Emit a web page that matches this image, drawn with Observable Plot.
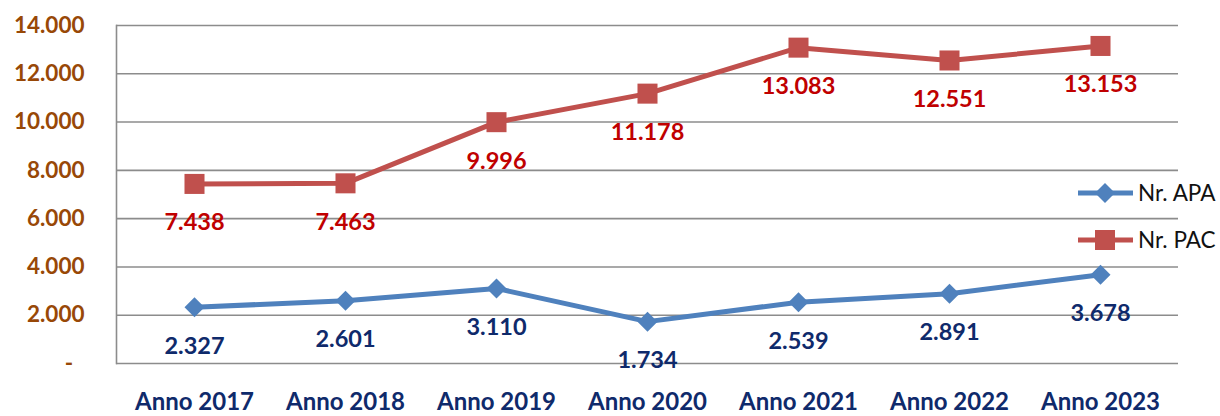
<!DOCTYPE html>
<html><head><meta charset="utf-8">
<script src="https://cdn.jsdelivr.net/npm/d3@7"></script>
<script src="https://cdn.jsdelivr.net/npm/@observablehq/plot@0.6"></script>
<style>
body{margin:0;background:#fff;}
#chart{position:relative;width:1220px;height:416px;overflow:hidden;}
#legend{position:absolute;left:0;top:0;pointer-events:none;}
</style>
</head><body><div id="chart"></div>
<script>
const years = ["Anno 2017","Anno 2018","Anno 2019","Anno 2020","Anno 2021","Anno 2022","Anno 2023"];
const apa = [2327, 2601, 3110, 1734, 2539, 2891, 3678];
const pac = [7438, 7463, 9996, 11178, 13083, 12551, 13153];
const yTicks = [0, 2000, 4000, 6000, 8000, 10000, 12000, 14000];
const seriesNames = ["Nr. APA", "Nr. PAC"];
const lineColors = ["#4F81BD", "#C0504D"];
const labelColors = ["#0F2A6B", "#C00000"];
const FONT = "Lato, Carlito, Calibri, 'Open Sans', sans-serif";

const fmt = d => d === 0 ? "-\u2002" : d3.format(",")(d).replace(/,/g, ".");
const apaRows = apa.map((v, i) => ({year: years[i], value: v, series: seriesNames[0]}));
const pacRows = pac.map((v, i) => ({year: years[i], value: v, series: seriesNames[1]}));

const chart = Plot.plot({
  width: 1220, height: 416,
  marginLeft: 116, marginRight: 42, marginTop: 25, marginBottom: 53,
  style: {fontFamily: FONT, background: "white"},
  x: {type: "point", domain: years, padding: 0.5},
  y: {domain: [0, 14000]},
  color: {domain: seriesNames, range: lineColors},
  marks: [
    Plot.ruleY(yTicks, {stroke: "#8c8c8c", strokeWidth: 1.6}),
    Plot.frame({anchor: "left", stroke: "#8c8c8c", strokeWidth: 1.6}),
    Plot.axisY({ticks: yTicks, tickSize: 0, tickPadding: 32, tickFormat: fmt, color: "#984807", fill: "#984807", fontSize: 22.5, fontWeight: "bold", label: null}),
    Plot.axisX({tickSize: 0, tickPadding: 29, color: "#0F2A6B", fill: "#0F2A6B", fontSize: 24, fontWeight: "bold", label: null}),
    Plot.line(apaRows, {x: "year", y: "value", stroke: "series", strokeWidth: 5}),
    Plot.line(pacRows, {x: "year", y: "value", stroke: "series", strokeWidth: 5}),
    Plot.dot(apaRows, {x: "year", y: "value", symbol: "diamond2", r: 9, fill: lineColors[0], stroke: null}),
    Plot.dot(pacRows, {x: "year", y: "value", symbol: "square", r: 11.3, fill: lineColors[1], stroke: null}),
    Plot.text(apaRows, {x: "year", y: "value", text: d => fmt(d.value), dy: 39, fill: labelColors[0], fontSize: 23.5, fontWeight: "bold"}),
    Plot.text(pacRows, {x: "year", y: "value", text: d => fmt(d.value), dy: 39, fill: labelColors[1], fontSize: 23.5, fontWeight: "bold"})
  ]
});
const host = document.getElementById("chart");
host.appendChild(chart);

// legend
const lg = d3.select(host).append("svg").attr("id", "legend").attr("width", 1220).attr("height", 416)
  .style("font-family", FONT);
const items = [{name: seriesNames[0], color: lineColors[0], sym: d3.symbolDiamond2, size: 255, y: 193},
               {name: seriesNames[1], color: lineColors[1], sym: d3.symbolSquare, size: 400, y: 240}];
items.forEach(it => {
  const g = lg.append("g");
  g.append("line").attr("x1", 1078).attr("x2", 1133).attr("y1", it.y).attr("y2", it.y)
    .attr("stroke", it.color).attr("stroke-width", 5);
  g.append("path").attr("d", d3.symbol(it.sym, it.size)()).attr("transform", `translate(1105,${it.y})`).attr("fill", it.color);
  g.append("text").attr("x", 1138).attr("y", it.y).attr("dy", "0.35em").attr("font-size", 22.5).attr("fill", "#111").text(it.name);
});
</script>
</body></html>
